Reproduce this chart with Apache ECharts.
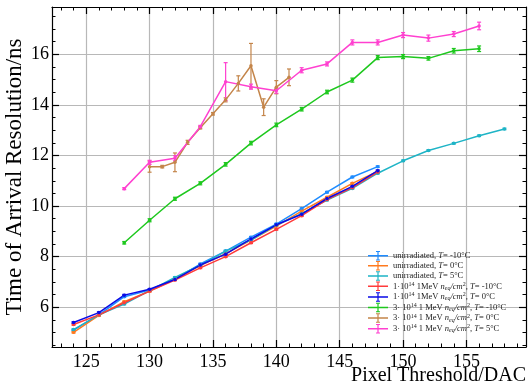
<!DOCTYPE html>
<html>
<head>
<meta charset="utf-8">
<script src="https://cdn.jsdelivr.net/npm/echarts@6/dist/echarts.min.js"></script>
<style>
  html, body { margin: 0; padding: 0; background: #fff; }
  #chart { width: 528px; height: 390px; }
</style>
</head>
<body>
<div id="chart"></div>
<script>
// x values (Pixel Threshold/DAC)
const xShort = [124, 126, 128, 130, 132, 134, 136, 138, 140, 142, 144, 146, 148];
const xLong = [124, 126, 128, 130, 132, 134, 136, 138, 140, 142, 144, 146, 148, 150, 152, 154, 156, 158];
const xHigh = [128, 130, 132, 134, 136, 138, 140, 142, 144, 146, 148, 150, 152, 154, 156];
const xBrown = [130, 131, 132, 133, 134, 135, 136, 137, 138, 139, 140, 141];

// time of arrival resolution / ns
const unirrM10 = [5.10, 5.70, 6.42, 6.68, 7.12, 7.71, 8.22, 8.77, 9.29, 9.90, 10.55, 11.15, 11.56];
const unirr0 = [5.01, 5.68, 6.22, 6.64, 7.12, 7.65, 8.12, 8.66, 9.21, 9.80, 10.35, 10.90, 11.37];
const unirr5 = [5.12, 5.70, 6.13, 6.66, 7.18, 7.66, 8.22, 8.66, 9.25, 9.70, 10.24, 10.70, 11.30, 11.79, 12.20, 12.48, 12.78, 13.05];
const irr1M10 = [5.32, 5.70, 6.18, 6.64, 7.08, 7.56, 8.00, 8.55, 9.08, 9.62, 10.26, 10.73, 11.34];
const irr10 = [5.40, 5.79, 6.48, 6.71, 7.10, 7.67, 8.10, 8.70, 9.26, 9.68, 10.30, 10.78, 11.40];
const irr3M10 = [8.55, 9.44, 10.29, 10.90, 11.65, 12.49, 13.21, 13.83, 14.51, 14.98, 15.87, 15.91, 15.84, 16.14, 16.22];
const irr30 = [11.56, 11.56, 11.73, 12.52, 13.10, 13.65, 14.20, 14.85, 15.55, 13.91, 14.70, 15.09];
const irr35 = [10.69, 11.73, 11.89, 13.14, 14.92, 14.72, 14.56, 15.37, 15.62, 16.47, 16.47, 16.76, 16.64, 16.80, 17.12];

// errors
const errShort = [0.03, 0.03, 0.03, 0.03, 0.03, 0.03, 0.03, 0.03, 0.03, 0.03, 0.03, 0.03, 0.03];
const errLong = [0.03, 0.03, 0.03, 0.03, 0.03, 0.03, 0.03, 0.03, 0.03, 0.03, 0.03, 0.03, 0.03, 0.03, 0.03, 0.03, 0.03, 0.03];
const errM10 = [0.05, 0.06, 0.06, 0.06, 0.07, 0.07, 0.07, 0.07, 0.07, 0.08, 0.08, 0.08, 0.07, 0.09, 0.11];
const err30 = [0.22, 0.05, 0.37, 0.08, 0.05, 0.05, 0.08, 0.30, 0.88, 0.33, 0.26, 0.33];
const err35 = [0.04, 0.08, 0.10, 0.05, 0.75, 0.10, 0.10, 0.10, 0.08, 0.10, 0.10, 0.10, 0.12, 0.10, 0.15];

const xMajor = [125, 130, 135, 140, 145, 150, 155];
const xMinor = [123, 124, 126, 127, 128, 129, 131, 132, 133, 134, 136, 137, 138, 139, 141, 142, 143, 144, 146, 147, 148, 149, 151, 152, 153, 154, 156, 157, 158, 159];
const yMajor = [6, 8, 10, 12, 14, 16];
const yMinor = [4.5, 5, 5.5, 6.5, 7, 7.5, 8.5, 9, 9.5, 10.5, 11, 11.5, 12.5, 13, 13.5, 14.5, 15, 15.5, 16.5, 17, 17.5];

const sets = [
  { name: "unirr-10", x: xShort, y: unirrM10, e: errShort, color: "#1f8cff" },
  { name: "unirr0", x: xShort, y: unirr0, e: errShort, color: "#ff7a1f" },
  { name: "unirr5", x: xLong, y: unirr5, e: errLong, color: "#1eb4c6" },
  { name: "1e14-10", x: xShort, y: irr1M10, e: errShort, color: "#ff3b3b" },
  { name: "1e14 0", x: xShort, y: irr10, e: errShort, color: "#0a0ae6" },
  { name: "3e14-10", x: xHigh, y: irr3M10, e: errM10, color: "#1ec81e" },
  { name: "3e14 0", x: xBrown, y: irr30, e: err30, color: "#c4854a" },
  { name: "3e14 5", x: xHigh, y: irr35, e: err35, color: "#ff40d0" },
];

const labels = {
  "unirr-10": "{r|unirradiated, }{i|T}{r|= -10°C}",
  "unirr0": "{r|unirradiated, }{i|T}{r|= 0°C}",
  "unirr5": "{r|unirradiated, }{i|T}{r|= 5°C}",
  "1e14-10": "{r|1·10}{sup|14}{r| 1MeV }{i|n}{sub|eq}{i|/cm}{sup|2}{r|, }{i|T}{r|= -10°C}",
  "1e14 0": "{r|1·10}{sup|14}{r| 1MeV }{i|n}{sub|eq}{i|/cm}{sup|2}{r|, }{i|T}{r|= 0°C}",
  "3e14-10": "{r|3· 10}{sup|14}{r| 1 MeV }{i|n}{sub|eq}{i|/cm}{sup|2}{r|, }{i|T}{r|= -10°C}",
  "3e14 0": "{r|3· 10}{sup|14}{r| 1 MeV }{i|n}{sub|eq}{i|/cm}{sup|2}{r|, }{i|T}{r|= 0°C}",
  "3e14 5": "{r|3· 10}{sup|14}{r| 1 MeV }{i|n}{sub|eq}{i|/cm}{sup|2}{r|, }{i|T}{r|= 5°C}",
};

const serif = '"Liberation Serif", "DejaVu Serif", serif';
const legendIcon =
  "path://M0,4 L20,4 L20,5.5 L0,5.5 Z M9.4,0 L10.6,0 L10.6,9.5 L9.4,9.5 Z M8,0 L12,0 L12,1 L8,1 Z M8,8.5 L12,8.5 L12,9.5 L8,9.5 Z";

// vertical error bar with caps
function renderErr(params, api) {
  const x = api.value(0);
  const lo = api.coord([x, api.value(1)]);
  const hi = api.coord([x, api.value(2)]);
  const style = { stroke: api.visual("color"), lineWidth: 1.2 };
  return {
    type: "group",
    children: [
      { type: "line", shape: { x1: lo[0], y1: lo[1], x2: hi[0], y2: hi[1] }, style },
      { type: "line", shape: { x1: lo[0] - 2, y1: lo[1], x2: lo[0] + 2, y2: lo[1] }, style },
      { type: "line", shape: { x1: hi[0] - 2, y1: hi[1], x2: hi[0] + 2, y2: hi[1] }, style },
    ],
  };
}

const series = [];
sets.forEach((s) => {
  series.push({
    name: s.name,
    type: "line",
    data: s.x.map((x, i) => [x, s.y[i]]),
    symbol: "circle",
    symbolSize: 3.5,
    showSymbol: true,
    lineStyle: { width: 1.5, color: s.color },
    itemStyle: { color: s.color },
    animation: false,
  });
  series.push({
    name: s.name,
    type: "custom",
    renderItem: renderErr,
    data: s.x.map((x, i) => [x, s.y[i] - s.e[i], s.y[i] + s.e[i]]),
    itemStyle: { color: s.color },
    animation: false,
    z: 3,
  });
});

function axisPair(dim, pos, major, minor, withLabels, min, max) {
  const base = {
    type: "value",
    position: pos,
    min,
    max,
    axisLine: { show: false },
    axisLabel: { show: false },
    splitLine: { show: false },
  };
  const majorAxis = Object.assign({}, base, {
    axisLine: { show: true, lineStyle: { color: "#000", width: 1.2 } },
    axisTick: { show: true, inside: true, length: 7, customValues: major, lineStyle: { color: "#000", width: 1.2 } },
    axisLabel: withLabels
      ? { show: true, customValues: major, color: "#000", fontFamily: serif, fontSize: 18, margin: dim === "x" ? 6 : 3 }
      : { show: false },
    splitLine: withLabels ? { show: true, lineStyle: { color: "#b8b8b8", width: 1.2 } } : { show: false },
  });
  const minorAxis = Object.assign({}, base, {
    axisTick: { show: true, inside: true, length: 3.5, customValues: minor, lineStyle: { color: "#000", width: 1 } },
  });
  return [majorAxis, minorAxis];
}

const chart = echarts.init(document.getElementById("chart"), null, { renderer: "canvas" });
chart.setOption({
  backgroundColor: "#fff",
  animation: false,
  grid: { left: 52, right: 2, top: 7, bottom: 43, containLabel: false, outerBoundsMode: "none" },
  xAxis: [
    ...axisPair("x", "bottom", xMajor, xMinor, true, 122.3, 159.7),
    ...axisPair("x", "top", xMajor, xMinor, false, 122.3, 159.7),
  ],
  yAxis: [
    ...axisPair("y", "left", yMajor, yMinor, true, 4.43, 17.87),
    ...axisPair("y", "right", yMajor, yMinor, false, 4.43, 17.87),
  ],
  legend: {
    data: sets.map((s) => s.name),
    orient: "vertical",
    left: 368,
    top: 251,
    padding: 0,
    itemGap: 0.6,
    itemWidth: 20,
    itemHeight: 9.5,
    icon: legendIcon,
    formatter: (name) => labels[name],
    textStyle: {
      color: "#222",
      fontFamily: serif,
      fontSize: 8.5,
      rich: {
        r: { fontFamily: serif, fontSize: 8.5, color: "#222", lineHeight: 10 },
        i: { fontFamily: serif, fontSize: 8.5, fontStyle: "italic", color: "#222", lineHeight: 10 },
        sup: { fontFamily: serif, fontSize: 6, color: "#222", verticalAlign: "top", lineHeight: 6 },
        sub: { fontFamily: serif, fontSize: 6, fontStyle: "italic", color: "#222", verticalAlign: "bottom", lineHeight: 6 },
      },
    },
  },
  graphic: [
    {
      type: "text",
      right: 2,
      top: 366,
      style: { text: "Pixel Threshold/DAC", font: "20px " + serif, fill: "#000" },
    },
    {
      type: "text",
      x: 15,
      y: 177,
      rotation: Math.PI / 2,
      style: {
        text: "Time of Arrival Resolution/ns",
        font: "23px " + serif,
        fill: "#000",
        align: "center",
        verticalAlign: "middle",
      },
    },
  ],
  series,
});
</script>
</body>
</html>
